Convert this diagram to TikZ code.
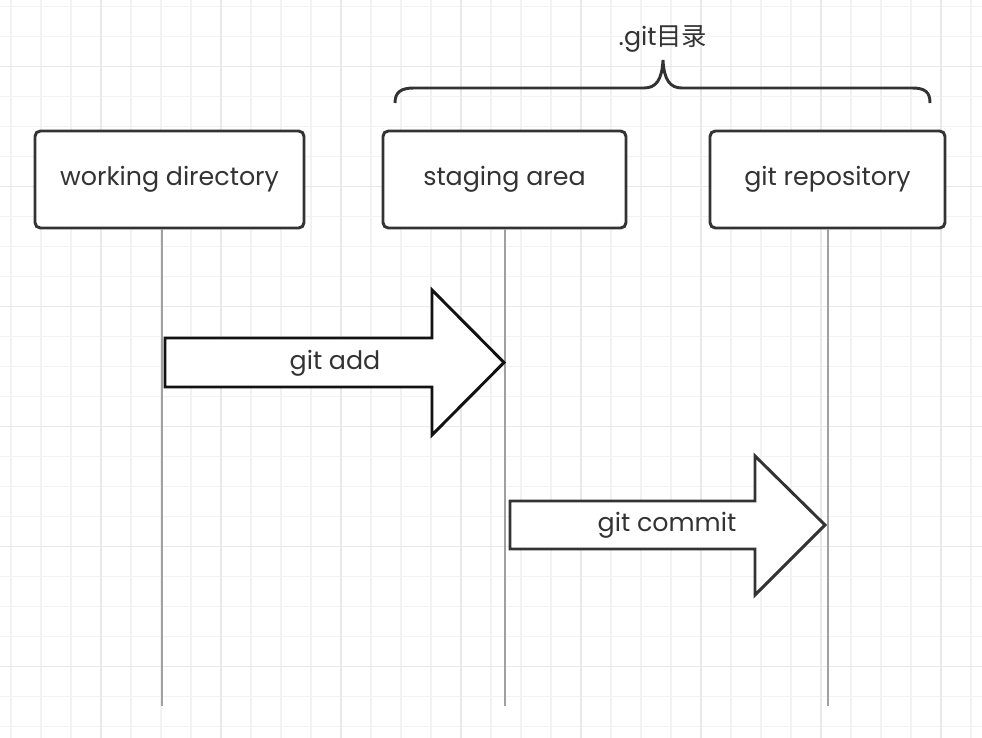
\documentclass[tikz,border=0pt]{standalone}
\usepackage{fontspec}
\setmainfont{Poppins}
\newfontfamily\cjk{Noto Sans CJK SC}
\usetikzlibrary{positioning}

\definecolor{gridminor}{HTML}{F2F2F2}
\definecolor{gridmajor}{HTML}{E8E8E8}
\definecolor{boxline}{HTML}{333333}
\definecolor{lifegray}{HTML}{A0A0A0}

\tikzset{
  box/.style={draw=boxline, line width=2.2pt, rounded corners=4pt, fill=white,
    minimum height=72.75pt, text=boxline, font=\fontsize{19}{22}\selectfont},
  lifeline/.style={draw=lifegray, line width=1pt},
  blockarrow/.style={line width=2.2pt, fill=white, line join=miter},
  arrowlabel/.style={text=boxline, font=\fontsize{19}{22}\selectfont},
}

\begin{document}
\begin{tikzpicture}[x=0.75pt,y=-0.75pt]
\useasboundingbox (0,0) rectangle (982,738);

% grid paper
\fill[white] (0,0) rectangle (982,738);
\foreach \gx in {11,41,...,971} \draw[gridminor, line width=1.1pt] (\gx,0) -- (\gx,738);
\foreach \gy in {6.7,36.7,...,736.7} \draw[gridminor, line width=1.1pt] (0,\gy) -- (982,\gy);
\foreach \gx in {101,221,...,941} \draw[gridmajor, line width=1.1pt] (\gx,0) -- (\gx,738);
\foreach \gy in {66.7,186.7,...,666.7} \draw[gridmajor, line width=1.1pt] (0,\gy) -- (982,\gy);

% the three areas
\node[box, minimum width=201.75pt] (wd) at (169.5,179.5) {working directory};
\node[box, minimum width=182.25pt] (sa) at (504.5,179.5) {staging area};
\node[box, minimum width=176.25pt] (gr) at (827.5,179.5) {git repository};

% lifelines
\coordinate (wdend) at (162,706);
\coordinate (saend) at (505,706);
\coordinate (grend) at (828,706);
\draw[lifeline] (wd.south -| wdend) -- (wdend);
\draw[lifeline] (sa.south -| saend) -- (saend);
\draw[lifeline] (gr.south -| grend) -- (grend);

% git add
\draw[blockarrow, draw=black!93] (165,338) -- (432,338) -- (432,290) -- (504,362.5)
  -- (432,435) -- (432,387) -- (165,387) -- cycle;
\node[arrowlabel] (add) at (335,363) {git add};

% git commit
\draw[blockarrow, draw=boxline] (510,501) -- (755,501) -- (755,456) -- (825,525)
  -- (755,595) -- (755,549) -- (510,549) -- cycle;
\node[arrowlabel] (commit) at (667,525) {git commit};

% .git brace
\coordinate (bl) at (395,103);
\coordinate (br) at (930,103);
\coordinate (btip) at (663,60);
\draw[boxline, line width=2.2pt] (bl) .. controls (395,92) and (401,88) .. (414,88)
  -- (644,88) .. controls (656,88) and (662,80) .. (btip)
  .. controls (664,80) and (670,88) .. (682,88)
  -- (912,88) .. controls (925,88) and (930,92) .. (br);
\node[arrowlabel] (gitdir) at (663,39) {.git{\cjk 目录}};

\end{tikzpicture}
\end{document}
